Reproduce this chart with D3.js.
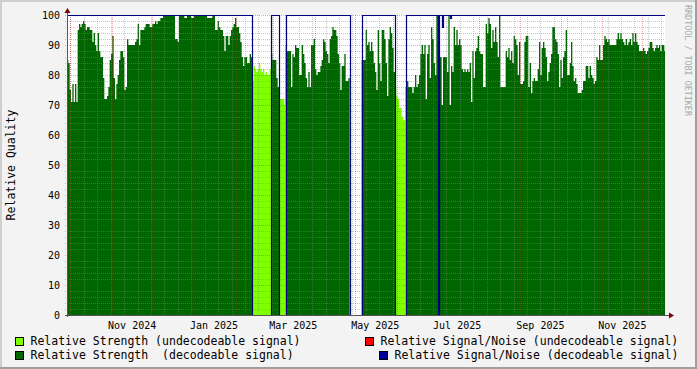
<!DOCTYPE html>
<html>
<head>
<meta charset="utf-8">
<script src="https://cdn.jsdelivr.net/npm/d3@7"></script>
<style>
body { margin: 0; background: #f3f3f3; }
svg { display: block; }
text { font-family: "DejaVu Sans Mono", monospace; }
</style>
</head>
<body>
<svg id="chart" width="697" height="369"></svg>
<script>
// time span shown on the x axis
const timeStart = new Date(Date.UTC(2024, 8, 28, 12));
const timeEnd = new Date(Date.UTC(2025, 11, 17, 18, 30));

// one sample per consolidation step (a little under a day)
const stepCount = 448.5;

// relative strength per step, null = no data
const strength = [
  85, 84, 75, 71, 77, 71, 77, 71, 95, 97,
  96, 97, 98, 97, 95, 96, 96, 95, 95, 91,
  94, 90, 88, 94, 88, 86, 86, 79, 72, 72,
  73, 76, 85, 87, 93, 79, 72, 77, 80, 85,
  88, 88, 86, 75, 76, 92, 90, 90, 90, 90,
  90, 91, 92, 97, 90, 95, 95, 95, 96, 97,
  97, 97, 96, 96, 97, 97, 98, 97, 98, 98,
  99, 99, 100, 100, 100, 100, 100, 100, 100, 100,
  100, 92, 92, 91, 100, 100, 100, 100, 99, 99,
  100, 100, 100, 99, 99, 100, 100, 100, 100, 100,
  100, 100, 100, 100, 100, 99, 99, 99, 99, 100,
  100, 95, 95, 98, 96, 95, 95, 93, 88, 93,
  93, 90, 93, 95, 96, 97, 99, 96, 96, 94,
  91, 86, 83, 86, 86, 84, 84, 87, 86,
  78, 83, 82, 81, 82, 84, 82, 81, 82, 80, 81, 80, 80, 82,
  87, 85, 85, 85, 79, 76,
  72, 72, 72, 72, 70,
  90, 88, 88, 88, 76, 87, 86, 90, 89, 89,
  80, 80, 90, 87, 84, 79, 76, 81, 76, 90,
  90, 92, 82, 80, 81, 81, 83, 85, 92, 91,
  88, 87, 84, 92, 93, 96, 95, 95, 93, 87,
  84, 75, 83, 83, 87, 78, 78, 79,
  null, null, null, null, null, null, null, null, null,
  85, 85, 85, 95, 90, 91, 88, 91, 88, 84,
  81, 75, 95, 84, 78, 95, 95, 92, 84, 73,
  92, 96, 94, 89, 81,
  76, 73, 72, 69, 69, 66, 65, 65,
  76, 78, 76, 76, 76, 74, 76, 80, 76, 77,
  80, 87, 90, 87, 90, 72, 87, 90, 79, 96,
  92, 84, 80, 100, 100,
  86, 86, 70, 86, 86, 86, 81, 100, 70, 83,
  81, 96, 90, 95, 90, 92, 90, 82, 81, 82,
  81,
  82, 81, 84, 71, 88, 79, 88, 89, 93, 88,
  87, 87, 76, 76, 97, 94, 99, 97, 89, 95,
  91, 96, 91, 86, 100, 76, 76, 76, 76, 88,
  86, 89, 85, 88, 84, 93, 92, 90, 80, 91,
  77, 77, 78, 91, 93, 93, 76, 84, 74, 78,
  79, 78, 78, 82, 91, 80, 89, 91, 89, 86,
  78, 81, 84, 87, 96, 96, 92, 91, 87, 76,
  85, 79, 86,
  88, 95, 80, 80, 84, 91, 83,
  78, 79, 77, 74, 74, 74, 75, 78, 78, 83,
  83, 79, 83, 80, 79, 77, 78, 86, 85, 90,
  85, 85, 90, 93, 92, 91, 92, 90, 90, 90,
  90, 90, 92, 94, 92, 94, 92, 91, 90, 92,
  90, 91, 92, 90, 94, 91, 94, 91, 90, 88,
  88, 88, 89, 88, 87, 88, 89, 91, 91, 89,
  88, 89, 90, 89, 90, 88, 90, 90, 88
];

// step ranges [from, to] in which the signal could not be decoded
const undecodeable = [[139, 152], [159, 163], [246, 253]];

// relative signal/noise of the decoded signal as runs [from, to, value]
const signalNoise = [
  [0, 138, 100], [139, 152, 0], [153, 158, 100], [159, 163, 0],
  [164, 211, 100], [212, 220, 0], [221, 245, 100], [246, 253, 0],
  [254, 277, 100], [278, 278, 0], [279, 280, 100], [281, 281, 96],
  [282, 286, 100], [287, 287, 99], [288, 448, 100]
];

const yTicks = [0, 10, 20, 30, 40, 50, 60, 70, 80, 90, 100];
const monthLabels = ['Nov 2024', 'Jan 2025', 'Mar 2025', 'May 2025', 'Jul 2025', 'Sep 2025', 'Nov 2025'];

const legendItems = [
  { label: 'Relative Strength (undecodeable signal)', color: '#80ff00', x: 15, y: 337 },
  { label: 'Relative Strength  (decodeable signal)', color: '#006600', x: 15, y: 351 },
  { label: 'Relative Signal/Noise (undecodeable signal)', color: '#ff0000', x: 365, y: 337 },
  { label: 'Relative Signal/Noise (decodeable signal)', color: '#000099', x: 379, y: 351 }
];

const W = 697, H = 369;
const plot = { left: 67, right: 665, top: 15, bottom: 315 };

const svg = d3.select('#chart');

const stepMs = (timeEnd - timeStart) / stepCount;
const stepTime = i => new Date(+timeStart + i * stepMs);

const x = d3.scaleUtc()
  .domain([timeStart, timeEnd])
  .range([plot.left, plot.right]);

const y = d3.scaleLinear()
  .domain([0, 100])
  .range([plot.bottom, plot.top]);

// canvas with the shaded border
svg.append('rect').attr('width', W).attr('height', H).attr('fill', '#f3f3f3');
svg.append('path').attr('d', `M0,${H}V0H${W}`).attr('fill', 'none')
  .attr('stroke', '#cfcfcf').attr('stroke-width', 4);
svg.append('path').attr('d', `M0,${H}H${W}V0`).attr('fill', 'none')
  .attr('stroke', '#9e9e9e').attr('stroke-width', 4);

svg.append('rect')
  .attr('x', plot.left).attr('y', plot.top)
  .attr('width', plot.right - plot.left).attr('height', plot.bottom - plot.top)
  .attr('fill', '#ffffff');

// split the samples into runs of the same kind
let isUndec = i => undecodeable.some(r => i >= r[0] && i <= r[1]);

function runs (test) {
  let out = [], cur = null;
  strength.forEach((v, i) => {
    if (v != null && test(i)) {
      if (!cur) { cur = []; out.push(cur); }
      cur.push({ i: i, v: v });
    } else {
      cur = null;
    }
  });
  // closing point so the last step keeps its width
  out.forEach(r => { let last = r[r.length - 1]; r.push({ i: last.i + 1, v: last.v }); });
  return out;
}

let area = d3.area()
  .curve(d3.curveStepAfter)
  .x(d => x(stepTime(d.i)))
  .y0(y(0))
  .y1(d => y(d.v));

svg.append('clipPath').attr('id', 'plotclip')
  .append('rect')
  .attr('x', plot.left).attr('y', plot.top - 1)
  .attr('width', plot.right - plot.left).attr('height', plot.bottom - plot.top + 1);

let g = svg.append('g').attr('clip-path', 'url(#plotclip)');

g.selectAll('path.dec')
  .data(runs(i => !isUndec(i)))
  .join('path')
  .attr('class', 'dec')
  .attr('d', area)
  .attr('fill', '#006600');

g.selectAll('path.undec')
  .data(runs(isUndec))
  .join('path')
  .attr('class', 'undec')
  .attr('d', area)
  .attr('fill', '#80ff00');

// grid on top of the data
let gridG = svg.append('g');

let minorY = d3.range(0, 101, 2).filter(v => v % 10 !== 0);
gridG.selectAll('line.ymin')
  .data(minorY)
  .join('line')
  .attr('x1', plot.left - 2).attr('x2', plot.right)
  .attr('y1', d => Math.round(y(d)) + 0.5).attr('y2', d => Math.round(y(d)) + 0.5)
  .attr('stroke', 'rgba(130,130,130,0.45)')
  .attr('stroke-dasharray', '1,1');

// minor vertical grid every ten days
let minorX = d3.utcDay.every(1).range(new Date(Date.UTC(2024, 9, 1)), timeEnd)
  .filter((d, k) => k % 10 === 0);
gridG.selectAll('line.xmin')
  .data(minorX)
  .join('line')
  .attr('x1', d => Math.round(x(d)) + 0.5).attr('x2', d => Math.round(x(d)) + 0.5)
  .attr('y1', plot.top).attr('y2', plot.bottom + 2)
  .attr('stroke', 'rgba(130,130,130,0.45)')
  .attr('stroke-dasharray', '1,1');

let months = d3.utcMonth.range(timeStart, timeEnd);
gridG.selectAll('line.xmaj')
  .data(months)
  .join('line')
  .attr('x1', d => Math.round(x(d)) + 0.5).attr('x2', d => Math.round(x(d)) + 0.5)
  .attr('y1', plot.top).attr('y2', plot.bottom + 2)
  .attr('stroke', 'rgba(230,0,0,0.35)')
  .attr('stroke-dasharray', '1,1');

gridG.selectAll('line.ymaj')
  .data(yTicks.filter(v => v > 0))
  .join('line')
  .attr('x1', plot.left - 2).attr('x2', plot.right)
  .attr('y1', d => Math.round(y(d)) + 0.5).attr('y2', d => Math.round(y(d)) + 0.5)
  .attr('stroke', 'rgba(230,0,0,0.35)')
  .attr('stroke-dasharray', '1,1');

// signal/noise line
let snSteps = [];
signalNoise.forEach(r => { for (let i = r[0]; i <= r[1]; i++) snSteps.push({ i: i, v: r[2] }); });
snSteps.push({ i: snSteps.length, v: snSteps[snSteps.length - 1].v });

let line = d3.line()
  .curve(d3.curveStepAfter)
  .x(d => Math.round(x(stepTime(d.i))) + 0.5)
  .y(d => Math.round(y(d.v)) + 0.5);

svg.append('path')
  .datum(snSteps)
  .attr('d', line)
  .attr('fill', 'none')
  .attr('stroke', '#000080')
  .attr('stroke-width', 1.2)
  .attr('clip-path', 'url(#plotclip)');

// axes
svg.append('line')
  .attr('x1', plot.left - 2).attr('x2', plot.right + 5)
  .attr('y1', plot.bottom + 0.5).attr('y2', plot.bottom + 0.5)
  .attr('stroke', '#555');
svg.append('line')
  .attr('x1', plot.left + 0.5).attr('x2', plot.left + 0.5)
  .attr('y1', plot.bottom + 2).attr('y2', plot.top - 5)
  .attr('stroke', '#555');
svg.append('path')
  .attr('d', `M${plot.left - 2.5},${plot.top - 2}L${plot.left + 0.5},${plot.top - 7}L${plot.left + 3.5},${plot.top - 2}Z`)
  .attr('fill', '#7f0000');
svg.append('path')
  .attr('d', `M${plot.right + 4},${plot.bottom - 2.5}L${plot.right + 9},${plot.bottom + 0.5}L${plot.right + 4},${plot.bottom + 3.5}Z`)
  .attr('fill', '#7f0000');

// tick labels
svg.append('g').selectAll('text')
  .data(yTicks)
  .join('text')
  .attr('x', plot.left - 7)
  .attr('y', d => y(d))
  .attr('dy', '0.36em')
  .attr('text-anchor', 'end')
  .attr('font-size', 10)
  .attr('fill', '#000')
  .text(d => d);

// labels every second month, centred half a month after the month starts
let labelMonths = months.filter(d => [10, 0, 2, 4, 6, 8].includes(d.getUTCMonth()));
svg.append('g').selectAll('text')
  .data(labelMonths)
  .join('text')
  .attr('x', d => x(d3.utcDay.offset(d, 15)))
  .attr('y', 328.5)
  .attr('text-anchor', 'middle')
  .attr('font-size', 10)
  .attr('fill', '#000')
  .text((d, i) => monthLabels[i]);

// axis title
svg.append('text')
  .attr('transform', 'translate(15,165) rotate(-90)')
  .attr('text-anchor', 'middle')
  .attr('font-size', 11.5)
  .attr('fill', '#000')
  .text('Relative Quality');

// watermark
svg.append('text')
  .attr('transform', 'translate(685,5) rotate(90)')
  .attr('font-size', 8.4)
  .attr('fill', '#a8a8a8')
  .text('RRDTOOL / TOBI OETIKER');

// legend
let leg = svg.append('g').selectAll('g')
  .data(legendItems)
  .join('g')
  .attr('transform', d => `translate(${d.x},${d.y})`);

leg.append('rect')
  .attr('x', 0.5).attr('y', 0.5)
  .attr('width', 8).attr('height', 8)
  .attr('fill', d => d.color)
  .attr('stroke', '#000');

leg.append('text')
  .attr('x', 15.5)
  .attr('y', 8.3)
  .attr('font-size', 11.5)
  .attr('fill', '#000')
  .attr('xml:space', 'preserve')
  .style('white-space', 'pre')
  .text(d => d.label);
</script>
</body>
</html>
